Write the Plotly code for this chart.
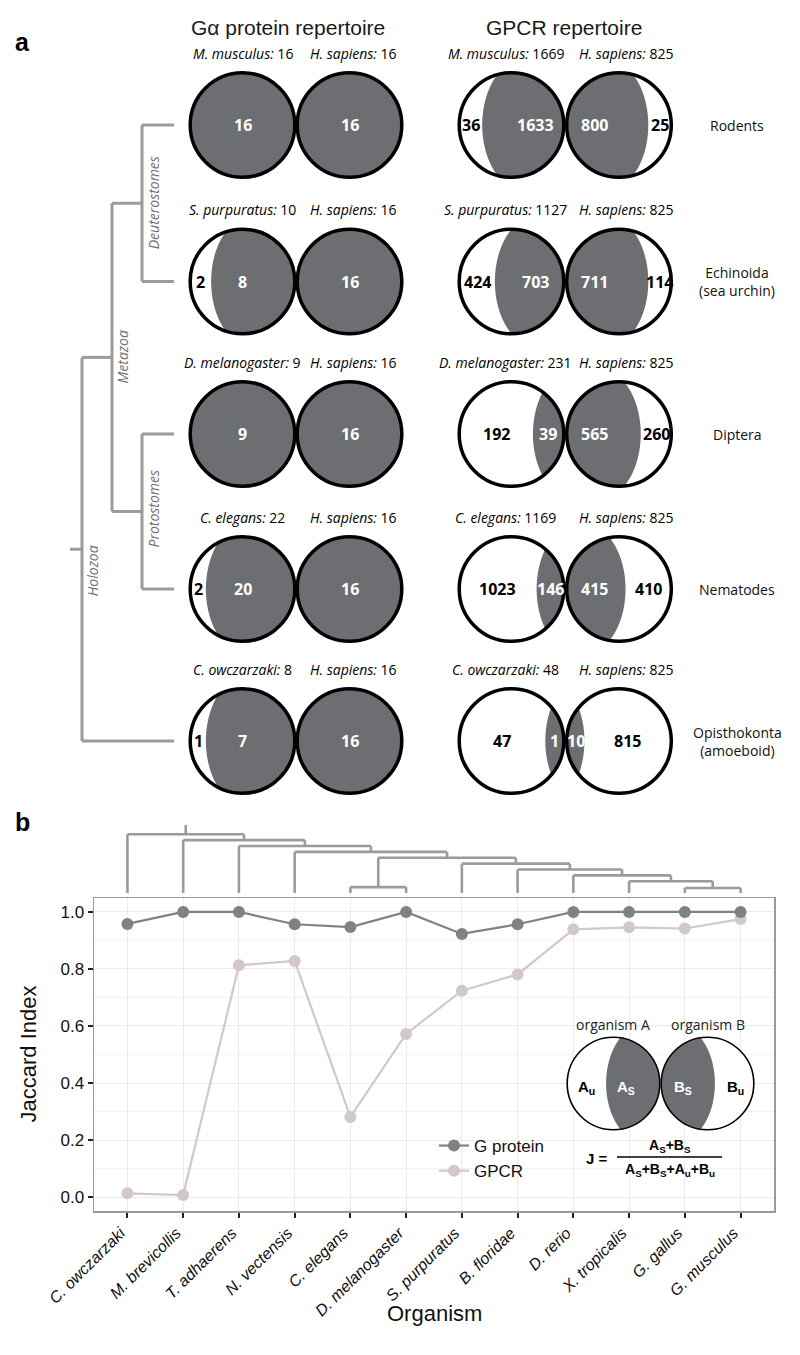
import numpy as np
import plotly.graph_objects as go

W, H = 800, 1355

# ---------------- Panel a data ----------------
row_species = ["M. musculus", "S. purpuratus", "D. melanogaster", "C. elegans", "C. owczarzaki"]
row_clades = ["Rodents", "Echinoida<br>(sea urchin)", "Diptera", "Nematodes", "Opisthokonta<br>(amoeboid)"]
reference_species = "H. sapiens"
ga_total = [16, 10, 9, 22, 8]
ga_shared = [16, 8, 9, 20, 7]
ga_human_total = [16, 16, 16, 16, 16]
ga_human_shared = [16, 16, 16, 16, 16]
gpcr_total = [1669, 1127, 231, 1169, 48]
gpcr_shared = [1633, 703, 39, 146, 1]
gpcr_human_total = [825, 825, 825, 825, 825]
gpcr_human_shared = [800, 711, 565, 415, 10]
tree_labels = ["Deuterostomes", "Protostomes", "Metazoa", "Holozoa"]

# ---------------- Panel b data ----------------
organisms = ["C. owczarzaki", "M. brevicollis", "T. adhaerens", "N. vectensis", "C. elegans",
             "D. melanogaster", "S. purpuratus", "B. floridae", "D. rerio", "X. tropicalis",
             "G. gallus", "G. musculus"]
jaccard_gprotein = [0.958, 1.0, 1.0, 0.957, 0.947, 1.0, 0.923, 0.957, 1.0, 1.0, 1.0, 1.0]
jaccard_gpcr = [0.013, 0.007, 0.813, 0.828, 0.281, 0.572, 0.724, 0.781, 0.939, 0.946, 0.942, 0.975]
# dendrogram merges (leaf ids 0..11, internal nodes numbered from 12 in order) and merge levels
dendro_merges = [(4, 5), (10, 11), (9, 13), (8, 14), (7, 15), (6, 16), (12, 17), (3, 18), (2, 19), (1, 20), (0, 21)]
dendro_levels = [1.0, 0.85, 2, 3, 4, 5, 6, 7, 8, 9, 10]

# ---------------- styling constants ----------------
GREY = "#6d6e71"
TREE = "#9b9b9b"
SANS = "Liberation Sans, Arial, sans-serif"
MYR = "Open Sans, Noto Sans, sans-serif"
row_y = [125, 281.5, 434, 589, 741]
ga_cx = (242.5, 349.5)
gpcr_cx = (511.5, 619.0)
R = 52.3
STROKE = 3.5
WCAP = {"ga": 0.85, "gpcr": 0.78}

shapes = []
annotations = []


def px(x, y, text, size=14, color="black", family=MYR, xanchor="center", yanchor="middle", angle=0, align="center"):
    annotations.append(dict(x=x, y=y, xref="x3", yref="y3", text=text, showarrow=False,
                            font=dict(size=size, color=color, family=family),
                            xanchor=xanchor, yanchor=yanchor, textangle=angle, align=align))


def width_frac(shared, total, cap):
    f = shared / total
    return 1.0 if shared >= total else min(cap, 0.16 + 0.8 * f)


def lens_path(cx, cy, r, w, side):
    """grey region inside circle; side=+1 grey toward +x, -1 toward -x"""
    a = 0.8 * r
    b = 1.25 * r
    xc = r * (1 - 2 * w) + a
    ys = np.linspace(-r, r, 301)
    pts = []
    for y in ys:
        s = np.sqrt(max(r * r - y * y, 0))
        xb = xc - a * np.sqrt(max(1 - (y / b) ** 2, 0))
        lft = max(xb, -s)
        if lft < s:
            pts.append((y, lft, s))
    right = [(cx + side * p[2], cy + p[0]) for p in pts]
    left = [(cx + side * p[1], cy + p[0]) for p in pts[::-1]]
    allp = right + left
    d = "M " + " L ".join(f"{x:.2f},{y:.2f}" for x, y in allp) + " Z"
    return d


def circle_pair(cxs, cy, totA, shA, totB, shB, r, stroke, panel):
    for k, (cx, tot, sh, side) in enumerate([(cxs[0], totA, shA, 1), (cxs[1], totB, shB, -1)]):
        w = width_frac(sh, tot, WCAP[panel])
        if w >= 1:
            shapes.append(dict(type="circle", xref="x3", yref="y3", x0=cx - r, x1=cx + r, y0=cy - r, y1=cy + r,
                               fillcolor=GREY, line=dict(width=0), layer="above"))
            px(cx, cy, f"<b>{sh}</b>", size=16, color="white")
        else:
            shapes.append(dict(type="path", xref="x3", yref="y3", path=lens_path(cx, cy, r, w, side),
                               fillcolor=GREY, line=dict(width=0), layer="above"))
            uniq = tot - sh
            ux = cx - side * w * r
            if panel == "ga":
                sx = cx
            else:
                sx = cx + side * (r - min(w * r, 28))
            px(ux, cy, f"<b>{uniq}</b>", size=16, color="black")
            px(sx, cy, f"<b>{sh}</b>", size=16, color="white")
    for cx in cxs:
        shapes.append(dict(type="circle", xref="x3", yref="y3", x0=cx - r, x1=cx + r, y0=cy - r, y1=cy + r,
                           line=dict(color="black", width=stroke), fillcolor="rgba(0,0,0,0)", layer="above"))


# ---------------- Panel a ----------------
px(22, 42, "<b>a</b>", size=25, family=SANS)
px(288, 27, "Gα protein repertoire", size=21, color="#1a1a1a", family=SANS)
px(564, 27, "GPCR repertoire", size=21, color="#1a1a1a", family=SANS)

for i, cy in enumerate(row_y):
    circle_pair(ga_cx, cy, ga_total[i], ga_shared[i], ga_human_total[i], ga_human_shared[i], R, STROKE, "ga")
    circle_pair(gpcr_cx, cy, gpcr_total[i], gpcr_shared[i], gpcr_human_total[i], gpcr_human_shared[i], R, STROKE, "gpcr")
    ly = cy - 72
    px(ga_cx[0], ly, f"<i>{row_species[i]}:</i> {ga_total[i]}", size=14)
    px(ga_cx[1] + 4, ly, f"<i>{reference_species}:</i> {ga_human_total[i]}", size=14)
    px(gpcr_cx[0] - 6, ly, f"<i>{row_species[i]}:</i> {gpcr_total[i]}", size=14)
    px(gpcr_cx[1] + 7, ly, f"<i>{reference_species}:</i> {gpcr_human_total[i]}", size=14)
    px(737, cy, row_clades[i], size=14, color="#111")

# tree of panel a
def tline(x0, y0, x1, y1, color=TREE, width=3, ref=("x3", "y3")):
    shapes.append(dict(type="line", xref=ref[0], yref=ref[1], x0=x0, y0=y0, x1=x1, y1=y1,
                       line=dict(color=color, width=width), layer="above"))

tip = 174
x_leafclade, x_meta, x_holo, x_root = 142, 112, 82, 70
deut_mid = (row_y[0] + row_y[1]) / 2
prot_mid = (row_y[2] + row_y[3]) / 2
meta_mid = (deut_mid + prot_mid) / 2
holo_mid = (meta_mid + row_y[4]) / 2
for r0, r1 in [(row_y[0], row_y[1]), (row_y[2], row_y[3])]:
    tline(x_leafclade, r0, x_leafclade, r1)
    tline(x_leafclade, r0, tip, r0)
    tline(x_leafclade, r1, tip, r1)
tline(x_meta, deut_mid, x_meta, prot_mid)
tline(x_meta, deut_mid, x_leafclade, deut_mid)
tline(x_meta, prot_mid, x_leafclade, prot_mid)
tline(x_holo, meta_mid, x_holo, row_y[4])
tline(x_holo, meta_mid, x_meta, meta_mid)
tline(x_holo, row_y[4], tip, row_y[4])
tline(x_root, holo_mid, x_holo, holo_mid)

TL = "#6f6f6f"
px(x_leafclade + 11, deut_mid, f"<i>{tree_labels[0]}</i>", size=14, color=TL, angle=-90)
px(x_leafclade + 11, prot_mid - 3, f"<i>{tree_labels[1]}</i>", size=14, color=TL, angle=-90)
px(x_meta + 10, meta_mid, f"<i>{tree_labels[2]}</i>", size=14, color=TL, angle=-90)
px(x_holo + 10, holo_mid + 22, f"<i>{tree_labels[3]}</i>", size=14, color=TL, angle=-90)

# ---------------- Panel b ----------------
px(22, 822, "<b>b</b>", size=25, family=SANS)

PL, PR, PT, PB = 94, 774, 898, 1211
xdom = [PL / W, PR / W]
ydom = [1 - PB / H, 1 - PT / H]

# dendrogram above the plot
leaf_y, lvl_px = 893, 5.87
node_x = {i: float(i) for i in range(len(organisms))}
node_lvl = {i: 0.0 for i in range(len(organisms))}
for k, ((a, b), lv) in enumerate(zip(dendro_merges, dendro_levels)):
    nid = len(organisms) + k
    node_x[nid] = (node_x[a] + node_x[b]) / 2
    node_lvl[nid] = lv

def lvl2paper(lv):
    return 1 - (leaf_y - lv * lvl_px) / H

for k, ((a, b), lv) in enumerate(zip(dendro_merges, dendro_levels)):
    yy = lvl2paper(lv)
    tline(node_x[a], yy, node_x[b], yy, width=2.6, ref=("x", "paper"))
    for c in (a, b):
        tline(node_x[c], lvl2paper(node_lvl[c]), node_x[c], yy, width=2.6, ref=("x", "paper"))
root = len(organisms) + len(dendro_merges) - 1
tline(node_x[root], lvl2paper(dendro_levels[-1]), node_x[root], lvl2paper(dendro_levels[-1] + 1.6), width=2.6, ref=("x", "paper"))

# inset venn
icx = (613.5, 707.5)
icy = 1083.5
ir = 46.3
for cx, side in [(icx[0], 1), (icx[1], -1)]:
    shapes.append(dict(type="circle", xref="x3", yref="y3", x0=cx - ir, x1=cx + ir, y0=icy - ir, y1=icy + ir,
                       fillcolor="white", line=dict(width=0), layer="above"))
    shapes.append(dict(type="path", xref="x3", yref="y3", path=lens_path(cx, icy, ir, 0.58, side),
                       fillcolor=GREY, line=dict(width=0), layer="above"))
for cx in icx:
    shapes.append(dict(type="circle", xref="x3", yref="y3", x0=cx - ir, x1=cx + ir, y0=icy - ir, y1=icy + ir,
                       fillcolor="rgba(0,0,0,0)", line=dict(color="black", width=1.6), layer="above"))
px(613, 1024, "organism A", size=14, color="#222")
px(708, 1024, "organism B", size=14, color="#222")
px(586, 1087, "<b>A<sub>u</sub></b>", size=15, family=SANS)
px(626, 1087, "<b>A<sub>S</sub></b>", size=15, family=SANS, color="white")
px(683, 1087, "<b>B<sub>S</sub></b>", size=15, family=SANS, color="white")
px(735, 1087, "<b>B<sub>u</sub></b>", size=15, family=SANS)
px(597, 1158, "<b>J =</b>", size=15, family=SANS)
px(670, 1146, "<b>A<sub>S</sub>+B<sub>S</sub></b>", size=14, family=SANS)
px(670, 1170, "<b>A<sub>S</sub>+B<sub>S</sub>+A<sub>u</sub>+B<sub>u</sub></b>", size=14, family=SANS)
tline(617, 1157, 722, 1157, color="black", width=1.5)

# axis titles
px(28, (PT + PB) / 2, "Jaccard Index", size=22, family=SANS, angle=-90, color="#111")
px((PL + PR) / 2, 1313, "Organism", size=22, family=SANS, color="#111")

fig = go.Figure()
fig.add_trace(go.Scatter(x=[0], y=[0], xaxis="x3", yaxis="y3", mode="markers",
                         marker=dict(opacity=0), showlegend=False, hoverinfo="skip"))
xs = list(range(len(organisms)))
fig.add_trace(go.Scatter(x=xs, y=jaccard_gpcr, mode="lines+markers", name="GPCR", legendrank=2,
                         line=dict(color="#d2c8c7", width=2.2), marker=dict(size=12, color="#d2c8c7")))
fig.add_trace(go.Scatter(x=xs, y=jaccard_gprotein, mode="lines+markers", name="G protein", legendrank=1,
                         line=dict(color="#7f8183", width=2.2), marker=dict(size=12, color="#7f8183")))

fig.update_layout(
    template="none",
    width=W, height=H, autosize=False, margin=dict(l=0, r=0, t=0, b=0, pad=0, autoexpand=False),
    paper_bgcolor="white", plot_bgcolor="rgba(0,0,0,0)",
    shapes=shapes, annotations=annotations,
    showlegend=True, hovermode=False,
    legend=dict(x=434 / W, y=1 - 1128 / H, xanchor="left", yanchor="top",
                bgcolor="rgba(0,0,0,0)", font=dict(size=17, family=SANS, color="#111"),
                tracegroupgap=0, itemsizing="trace"),
    xaxis=dict(domain=xdom, range=[-0.6, len(organisms) - 0.4], tickmode="array", tickvals=xs, ticktext=organisms,
               tickangle=-45, tickfont=dict(size=16, family=SANS, color="#111", style="italic"),
               ticklabelshift=-7,
               ticks="outside", ticklen=5, tickwidth=2, tickcolor="#222",
               showline=True, linecolor="#9a9a9a", linewidth=1.5, mirror=True, automargin=False,
               showgrid=True, gridcolor="#ebebeb", gridwidth=1, zeroline=False, anchor="y", fixedrange=True),
    yaxis=dict(domain=ydom, range=[-0.049, 1.049], tickmode="array", tickvals=[0, 0.2, 0.4, 0.6, 0.8, 1.0],
               ticktext=["0.0", "0.2", "0.4", "0.6", "0.8", "1.0"],
               tickfont=dict(size=17, family=SANS, color="#111"),
               ticks="outside", ticklen=5, tickwidth=2, tickcolor="#222",
               showline=True, linecolor="#9a9a9a", linewidth=1.5, mirror=True, automargin=False,
               showgrid=True, gridcolor="#ebebeb", gridwidth=1,
               minor=dict(tickvals=[0.1, 0.3, 0.5, 0.7, 0.9], showgrid=True, gridcolor="#f3f3f3", ticks=""),
               zeroline=False, anchor="x", fixedrange=True),
    xaxis3=dict(domain=[0, 1], range=[0, W], visible=False, anchor="y3", fixedrange=True, automargin=False),
    yaxis3=dict(domain=[0, 1], range=[H, 0], visible=False, anchor="x3", fixedrange=True, automargin=False),
)

fig.write_html("out.html", config={"displayModeBar": False, "staticPlot": True},
               post_script="document.body.style.margin='0';")
